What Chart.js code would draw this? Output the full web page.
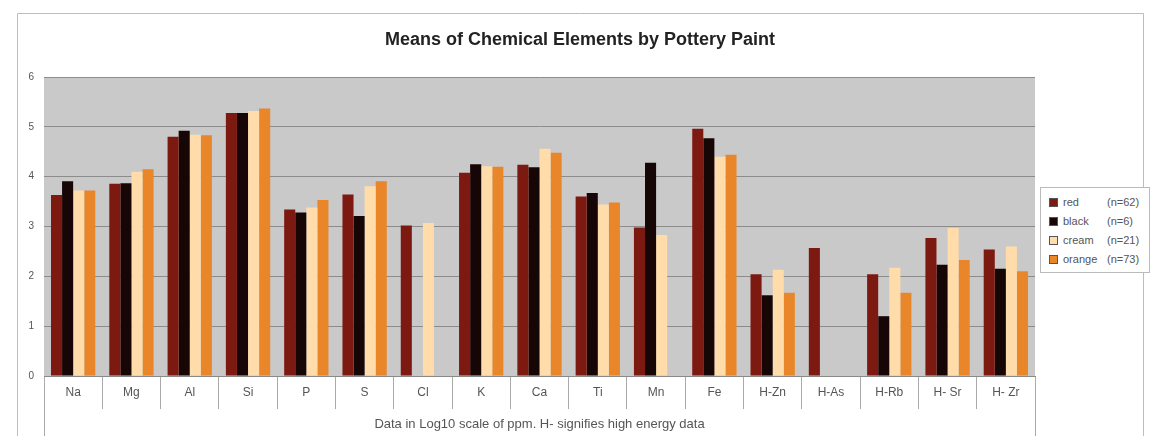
<!DOCTYPE html>
<html>
<head>
<meta charset="utf-8">
<script src="https://cdn.jsdelivr.net/npm/chart.js@4.4.0/dist/chart.umd.min.js"></script>
<style>
    html, body { margin: 0; padding: 0; background: #fff; }
    #wrap { position: relative; width: 1152px; height: 436px; font-family: "Liberation Sans", Arial, sans-serif; }
    #legend { position: absolute; left: 1040px; top: 187px; width: 110px; height: 86px; border: 1px solid #bbb; background: #fff; box-sizing: border-box; }
    .row { position: absolute; left: 0; height: 14px; font-size: 11px; color: #555; line-height: 14px; }
    .sw { position: absolute; left: 8px; top: 3px; width: 7px; height: 7px; border: 1px solid #555; }
    .nm { position: absolute; left: 22px; white-space: nowrap; }
    .ct { position: absolute; left: 66px; white-space: nowrap; }
</style>
</head>
<body>
<div id="wrap">
    <canvas id="chart" width="1152" height="436"></canvas>
    <div id="legend"></div>
</div>
<script>
const elements = ['Na', 'Mg', 'Al', 'Si', 'P', 'S', 'Cl', 'K', 'Ca', 'Ti', 'Mn', 'Fe', 'H-Zn', 'H-As', 'H-Rb', 'H- Sr', 'H- Zr'];
const paintNames = ['red', 'black', 'cream', 'orange'];
const paintCounts = ['(n=62)', '(n=6)', '(n=21)', '(n=73)'];
const paintColors = ['#7c1a12', '#160606', '#ffdcaa', '#e9862a'];

const redValues    = [3.63, 3.86, 4.80, 5.28, 3.34, 3.64, 3.02, 4.08, 4.24, 3.60, 2.98, 4.96, 2.04, 2.57, 2.04, 2.77, 2.54];
const blackValues  = [3.91, 3.87, 4.92, 5.28, 3.28, 3.21, null, 4.25, 4.19, 3.67, 4.28, 4.77, 1.62, null, 1.20, 2.23, 2.15];
const creamValues  = [3.72, 4.10, 4.84, 5.32, 3.38, 3.81, 3.07, 4.21, 4.56, 3.44, 2.83, 4.40, 2.13, null, 2.17, 2.97, 2.60];
const orangeValues = [3.72, 4.15, 4.83, 5.37, 3.53, 3.91, null, 4.20, 4.48, 3.48, null, 4.44, 1.67, null, 1.67, 2.33, 2.10];

const yTicks = [0, 1, 2, 3, 4, 5, 6];

const chartTitle = 'Means of Chemical Elements by Pottery Paint';
const xTitle = 'Data in Log10 scale of ppm. H- signifies high energy data';
const fontFam = '"Liberation Sans", Arial, sans-serif';

// legend as plain html, two columns like the original
const legend = document.getElementById('legend');
paintNames.forEach((name, i) => {
    const row = document.createElement('div');
    row.className = 'row';
    row.style.top = (7 + i * 19) + 'px';
    row.innerHTML = '<span class="sw" style="background:' + paintColors[i] + '"></span>' +
        '<span class="nm">' + name + '</span><span class="ct">' + paintCounts[i] + '</span>';
    legend.appendChild(row);
});

const decor = {
    id: 'decor',
    beforeDraw(chart) {
        const {ctx, chartArea} = chart;
        ctx.save();
        ctx.fillStyle = '#c9c9c9';
        ctx.fillRect(chartArea.left, chartArea.top, chartArea.right - chartArea.left, chartArea.bottom - chartArea.top);
        ctx.strokeStyle = '#bdbdbd';
        ctx.lineWidth = 1;
        ctx.beginPath();
        ctx.moveTo(17.5, 436); ctx.lineTo(17.5, 13.5); ctx.lineTo(1143.5, 13.5); ctx.lineTo(1143.5, 436);
        ctx.stroke();
        ctx.strokeStyle = '#aaa';
        ctx.beginPath();
        ctx.moveTo(chartArea.left + 0.5, chartArea.bottom); ctx.lineTo(chartArea.left + 0.5, 436);
        ctx.moveTo(chartArea.right + 0.5, chartArea.bottom); ctx.lineTo(chartArea.right + 0.5, 436);
        ctx.stroke();
        ctx.fillStyle = '#222';
        ctx.font = 'bold 18px ' + fontFam;
        ctx.textAlign = 'center';
        ctx.textBaseline = 'middle';
        ctx.fillText(chartTitle, 580, 40);
        ctx.restore();
    }
};

const datasets = [redValues, blackValues, creamValues, orangeValues].map((vals, i) => ({
    label: paintNames[i] + ' ' + paintCounts[i],
    data: vals,
    backgroundColor: paintColors[i],
    borderWidth: 0,
    categoryPercentage: 0.76,
    barPercentage: 1.0
}));

new Chart(document.getElementById('chart'), {
    type: 'bar',
    data: {labels: elements, datasets: datasets},
    options: {
        responsive: false,
        animation: false,
        layout: {padding: {top: 77, right: 117, left: 0, bottom: 0}},
        plugins: {legend: {display: false}, tooltip: {enabled: false}},
        scales: {
            x: {
                grid: {drawOnChartArea: false, drawTicks: true, tickLength: 33, color: '#aaa', offset: true},
                border: {display: true, color: '#8a8a8a'},
                ticks: {padding: -24, color: '#555', font: {size: 12, family: fontFam}},
                title: {display: true, text: xTitle, color: '#555', font: {size: 13, family: fontFam}, padding: {top: 0, bottom: 4}},
                afterFit: s => { s.height = 60; }
            },
            y: {
                min: 0,
                max: 6,
                afterBuildTicks: s => { s.ticks = yTicks.map(v => ({value: v})); },
                ticks: {padding: 10, color: '#555', font: {size: 10, family: fontFam}},
                grid: {color: '#8c8c8c', drawTicks: false},
                border: {display: false},
                afterFit: s => { s.width = 44; }
            }
        }
    },
    plugins: [decor]
});
</script>
</body>
</html>
